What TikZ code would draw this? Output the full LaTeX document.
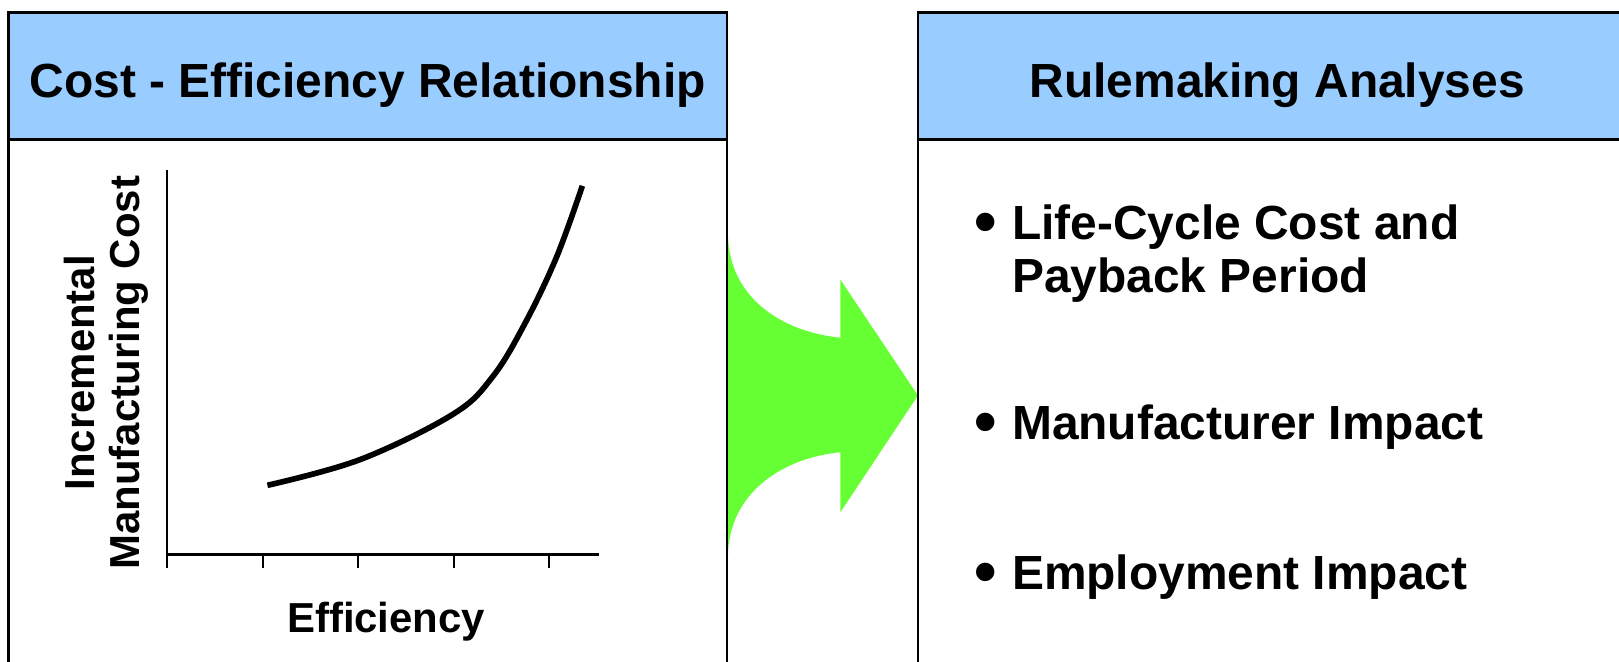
\documentclass[tikz,border=0pt]{standalone}
\usepackage{fontspec}
\setmainfont{Liberation Sans}[Ligatures=NoCommon]
\definecolor{hdrblue}{HTML}{99CCFF}
\definecolor{arrgreen}{HTML}{66FF33}
\begin{document}
\begin{tikzpicture}[x=1pt,y=-1pt,
  hdrtext/.style={font=\fontsize{46.4}{52}\selectfont\bfseries, inner sep=0pt, anchor=base},
  bultext/.style={font=\fontsize{46.4}{51}\selectfont\bfseries, inner sep=0pt, anchor=base west},
  bulmark/.style={font=\fontsize{62}{62}\selectfont\bfseries, inner sep=0pt, anchor=base west},
  axtext/.style={font=\fontsize{40.6}{44}\selectfont\bfseries, inner sep=0pt},
  frame/.style={line width=2.5pt, draw=black},
  axis/.style={line width=2pt, draw=black},
  curve/.style={line width=5.5pt, draw=black}]
\useasboundingbox (0,0) rectangle (1568,641);
% green arrow
\fill[arrgreen] (705,225) .. controls (705,290) and (760,322) .. (814,327)
  -- (814,271) -- (889,383) -- (814,496) -- (814,438)
  .. controls (760,443) and (705,476) .. (705,540) -- cycle;
% left panel
\fill[hdrblue] (8,12) rectangle (704,135);
\draw[frame] (8,645) -- (8,12) -- (704,12) -- (704,645);
\draw[frame] (8,135) -- (704,135);
% right panel
\fill[hdrblue] (889,12) rectangle (1585,135);
\draw[frame] (889,645) -- (889,12) -- (1585,12) -- (1585,645);
\draw[frame] (889,135) -- (1585,135);
% headers
\node[hdrtext] (h1) at (356,94) {Cost - Efficiency Relationship};
\node[hdrtext] (h2) at (1237,94) {Rulemaking Analyses};
% graph
\coordinate (o) at (162,537);
\coordinate (ytop) at (162,165);
\coordinate (xend) at (580,537);
\draw[axis] (ytop) -- (162,550);
\draw[axis] (o) -- (xend);
\foreach \tx in {255,347,440,532} \draw[axis] (\tx,537) -- (\tx,550);
\draw[curve] plot[smooth, tension=0.6] coordinates {(259,470) (349,445) (439,401) (477,365) (508,314) (539,249) (564,180)};
\node[axtext, rotate=90, align=center] (ylab) at (103,361) {Incremental\\Manufacturing Cost};
\node[axtext, anchor=base] (xlab) at (374,613) {Efficiency};
% bullets
\node[bulmark] (b1) at (944,236) {\textbullet};
\node[bultext] (t1) at (980,232) {Life-Cycle Cost and};
\node[bultext] (t1b) at (980,283) {Payback Period};
\node[bulmark] (b2) at (944,430) {\textbullet};
\node[bultext] (t2) at (980,426) {Manufacturer Impact};
\node[bulmark] (b3) at (944,575) {\textbullet};
\node[bultext] (t3) at (980,571) {Employment Impact};
\end{tikzpicture}
\end{document}
